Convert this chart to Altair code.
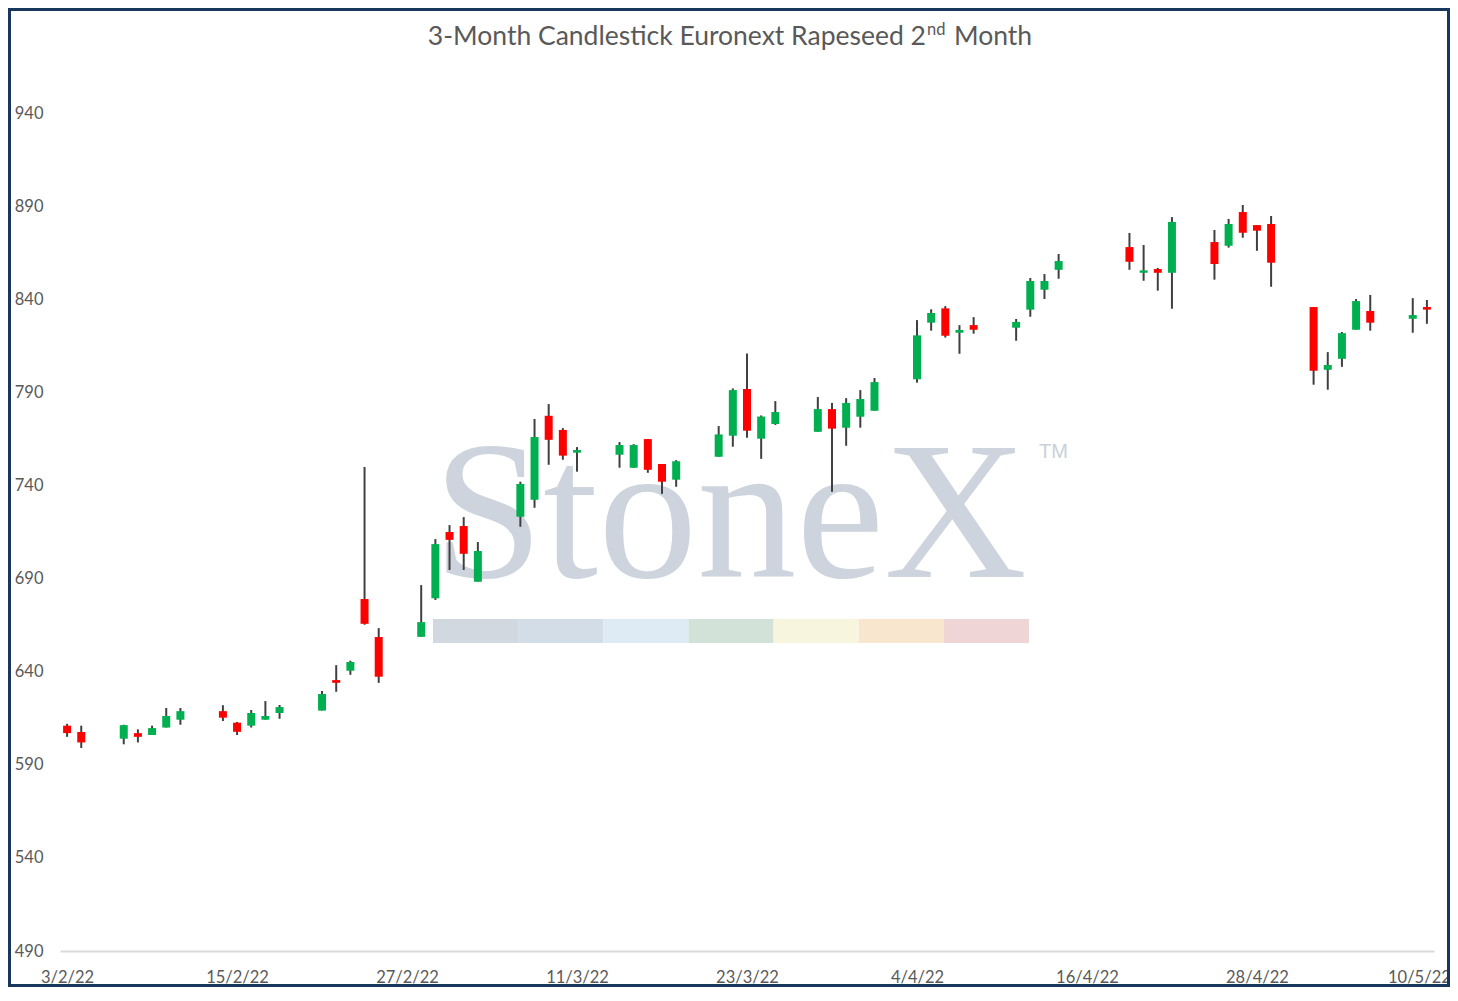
import altair as alt
import pandas as pd

# ---------------- data ----------------
dates = [
    "2022-02-03", "2022-02-04", "2022-02-07", "2022-02-08", "2022-02-09", "2022-02-10", "2022-02-11",
    "2022-02-14", "2022-02-15", "2022-02-16", "2022-02-17", "2022-02-18",
    "2022-02-21", "2022-02-22", "2022-02-23", "2022-02-24", "2022-02-25",
    "2022-02-28", "2022-03-01", "2022-03-02", "2022-03-03", "2022-03-04",
    "2022-03-07", "2022-03-08", "2022-03-09", "2022-03-10", "2022-03-11",
    "2022-03-14", "2022-03-15", "2022-03-16", "2022-03-17", "2022-03-18",
    "2022-03-21", "2022-03-22", "2022-03-23", "2022-03-24", "2022-03-25",
    "2022-03-28", "2022-03-29", "2022-03-30", "2022-03-31", "2022-04-01",
    "2022-04-04", "2022-04-05", "2022-04-06", "2022-04-07", "2022-04-08",
    "2022-04-11", "2022-04-12", "2022-04-13", "2022-04-14",
    "2022-04-19", "2022-04-20", "2022-04-21", "2022-04-22",
    "2022-04-25", "2022-04-26", "2022-04-27", "2022-04-28", "2022-04-29",
    "2022-05-02", "2022-05-03", "2022-05-04", "2022-05-05", "2022-05-06",
    "2022-05-09", "2022-05-10",
]
opens = [
    611, 607.6, 604, 607, 606, 610, 614.2,
    618.8, 612.6, 611, 614.2, 617.8,
    619.1, 635.5, 640.5, 679, 658.6,
    658.7, 679.4, 715, 718.2, 688.3,
    723.2, 732.3, 777.4, 769.8, 757.6,
    756.5, 749.5, 764.9, 751.5, 743.1,
    755.4, 766.7, 791.8, 765.1, 773,
    768.8, 781, 771, 776.9, 780.1,
    797, 827.4, 835.1, 822, 826.1,
    824.7, 834.4, 845.1, 855.8,
    868, 854.2, 856.2, 854.2,
    870.7, 868.7, 886.8, 879.8, 880.4,
    835.8, 802.1, 808, 823.6, 833.7,
    829.5, 835.8,
]
highs = [
    612, 611, 611.5, 609, 611, 620.5, 620.5,
    622, 613, 619.4, 624.2, 622.1,
    629.6, 643.5, 645.9, 749.9, 663.4,
    686.5, 711.2, 718.7, 723, 709.6,
    742, 775.7, 783.7, 770.8, 760.6,
    763.3, 762.2, 764.9, 751.5, 753.6,
    771.9, 792.1, 810.9, 777.6, 785.3,
    787.5, 784.3, 786.9, 791.2, 797.7,
    828.8, 834.6, 836.3, 826.1, 830.4,
    829.4, 851.4, 853.5, 864.3,
    875.6, 869.1, 856.8, 884.1,
    877.2, 883.1, 890.6, 879.8, 884.7,
    835.8, 811.6, 822.4, 840.1, 842.3,
    840.6, 839.6,
]
lows = [
    605, 599, 601, 602, 606, 610, 611.5,
    613.5, 606, 610, 614.2, 614.7,
    619.1, 629.2, 638.3, 665.2, 634,
    658.7, 678.5, 694.6, 694.6, 688.3,
    717.8, 728, 751.1, 753.8, 747.4,
    749.5, 749.5, 746.8, 735.5, 739.3,
    755.4, 760.8, 765.6, 754.3, 772.5,
    768.8, 736.6, 761.3, 771, 780.1,
    795.2, 823.1, 819.4, 810.7, 821.5,
    817.7, 830.6, 840.1, 851,
    855.8, 849.9, 844.6, 834.9,
    850.5, 867.7, 873, 866, 846.7,
    794.1, 791.4, 803.7, 823.6, 823.1,
    822, 826.8,
]
closes = [
    607, 602, 611.3, 605, 609.7, 616.2, 618.8,
    615.3, 607.7, 617.8, 616.2, 621,
    628, 634, 645.2, 665.7, 637.3,
    666.6, 708.5, 710.8, 703.3, 704.8,
    740.8, 766, 764.5, 756, 759,
    761.7, 761.7, 748.4, 742, 753,
    767.4, 791.2, 769.4, 777, 779.4,
    781, 770.5, 784.3, 786.4, 795.5,
    820.6, 832.6, 820.4, 823.5, 823.6,
    827.8, 849.8, 849.8, 860.5,
    860.1, 855.5, 854.2, 881.5,
    858.9, 880.4, 875.7, 876.8, 859.6,
    801.6, 804.7, 821.8, 839, 827.4,
    831.5, 834.4,
]
tick_dates = ["2022-02-03", "2022-02-15", "2022-02-27", "2022-03-11", "2022-03-23",
              "2022-04-04", "2022-04-16", "2022-04-28", "2022-05-10"]
x_domain = ["2022-02-02 12:00", "2022-05-10 12:00"]
y_ticks = [490, 540, 590, 640, 690, 740, 790, 840, 890, 940]
title_parts = ["3-Month Candlestick Euronext Rapeseed 2", "nd", "Month"]
watermark_text = ["StoneX"]
watermark_colors = ["#D2D8E0", "#D3DDE8", "#DEEAF4", "#D3E2D8", "#F8F5DE", "#F8E6CF", "#F0D5D7"]


def ms(s):
    return int(pd.Timestamp(s, tz="UTC").value // 10**6)


df = pd.DataFrame({"t": [ms(d) for d in dates], "open": opens, "high": highs,
                   "low": lows, "close": closes})

# ---------------- layout constants ----------------
W, H = 1374, 838
PAD = {"left": 52, "top": 105, "right": 16, "bottom": 36}
GREEN, RED, WICK = "#00B050", "#FF0000", "#404040"
TXT = "#595959"
FONT = "Lato"

x_scale = alt.Scale(type="utc", domain=[ms(d) for d in x_domain], padding=0)
y_scale = alt.Scale(domain=[490, 940], nice=False, zero=False, padding=0)
x_axis = alt.Axis(values=[ms(s) for s in tick_dates],
                  labelExpr="utcFormat(datum.value, '%-d/%-m/%y')",
                  labelOffset={"expr": "datum.index === 1 ? -8 : 0"},
                  title=None, labelOverlap=False)
y_axis = alt.Axis(values=y_ticks, title=None)

one = pd.DataFrame({"k": [0]})

# watermark
wm = alt.Chart(pd.DataFrame({"w": watermark_text})).mark_text(
    align="left", baseline="alphabetic", font="Liberation Serif", fontSize=198,
    color="#CDD4DD"
).encode(x=alt.value(373), y=alt.value(464), text="w:N")
tm = alt.Chart(one).mark_text(
    align="left", baseline="alphabetic", font="Liberation Sans", fontSize=20,
    color="#C9D0D9", text="TM"
).encode(x=alt.value(979), y=alt.value(345))
bar_left, bar_w = 373, 596 / 7
bars = []
for i, c in enumerate(watermark_colors):
    bars.append(
        alt.Chart(one).mark_rect(color=c).encode(
            x=alt.value(bar_left + i * bar_w), x2=alt.value(bar_left + (i + 1) * bar_w),
            y=alt.value(506), y2=alt.value(530)
        )
    )

base = alt.Chart(df)
wicks = base.mark_rule(color=WICK, strokeWidth=2).encode(
    x=alt.X("t:T", scale=x_scale, axis=x_axis),
    y=alt.Y("low:Q", scale=y_scale, axis=y_axis),
    y2="high:Q",
)
bodies = base.mark_bar(size=8).encode(
    x=alt.X("t:T", scale=x_scale, axis=x_axis),
    y=alt.Y("open:Q", scale=y_scale, axis=y_axis),
    y2="close:Q",
    color=alt.condition("datum.close >= datum.open", alt.value(GREEN), alt.value(RED)),
)

# title (with superscript)
t1 = alt.Chart(pd.DataFrame({"s": [title_parts[0]]})).mark_text(
    align="right", baseline="alphabetic", font=FONT, fontSize=26.5, color=TXT
).encode(x=alt.value(866), y=alt.value(-68), text="s:N")
t2 = alt.Chart(pd.DataFrame({"s": [title_parts[1]]})).mark_text(
    align="left", baseline="alphabetic", font=FONT, fontSize=16.5, color=TXT
).encode(x=alt.value(867), y=alt.value(-78), text="s:N")
t3 = alt.Chart(pd.DataFrame({"s": [title_parts[2]]})).mark_text(
    align="left", baseline="alphabetic", font=FONT, fontSize=26.5, color=TXT
).encode(x=alt.value(894), y=alt.value(-68), text="s:N")

border = alt.Chart(one).mark_rect(fillOpacity=0, stroke="#17375E", strokeWidth=3).encode(
    x=alt.value(-50.5), x2=alt.value(W + 14.5), y=alt.value(-103.5), y2=alt.value(H + 34.5)
)

chart = alt.layer(wm, tm, *bars, wicks, bodies, t1, t2, t3, border).properties(
    width=W, height=H,
    autosize=alt.AutoSizeParams(type="none"),
    padding=PAD,
    background="white",
).configure_view(stroke=None).configure_axisX(
    domainColor="#D9D9D9", domainWidth=2, ticks=False, grid=False,
    labelFont=FONT, labelFontSize=16.5, labelColor=TXT, labelPadding=18,
).configure_axisY(
    domain=False, ticks=False, grid=False,
    labelFont=FONT, labelFontSize=16.5, labelColor=TXT, labelPadding=17,
)

chart.save("out.html", embed_options={"renderer": "svg", "actions": False})
